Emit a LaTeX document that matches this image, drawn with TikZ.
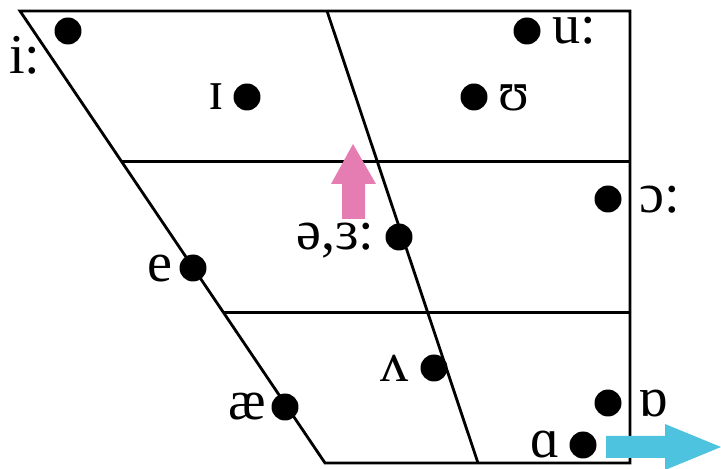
\documentclass[tikz,border=0pt]{standalone}
\usepackage{fontspec}
\setmainfont{Liberation Serif}
\usetikzlibrary{calc}
\definecolor{raisePink}{HTML}{E57DB3}
\definecolor{backCyan}{HTML}{4DC3E0}
\def\dotR{0.27cm}
\def\lineW{1.6pt}
\newcommand{\vowel}[5]{%
% #1 = name, #2 = dot position, #3 = label anchor, #4 = label position, #5 = label
\node[dot] (#1) at (#2) {};
\node[ipa, anchor=#3] (#1-lbl) at (#4) {#5};
}
\begin{document}
\begin{tikzpicture}[
    x=0.02cm, y=-0.02cm,
    line width=\lineW,
    dot/.style={circle, fill=black, inner sep=0pt, minimum size=2*\dotR},
    ipa/.style={inner sep=0pt, font=\fontsize{32}{38}\selectfont}
]
\useasboundingbox (0,0) rectangle (721,469);
% corners of the chart
\coordinate (TL) at (20,11);
\coordinate (TR) at (630,11);
\coordinate (BR) at (630,463);
\coordinate (BL) at (325,463);
\coordinate (TM) at (327,11);
\coordinate (BM) at (478,463);
\coordinate (L1) at ($(TL)!1/3!(BL)$);
\coordinate (R1) at ($(TR)!1/3!(BR)$);
\coordinate (L2) at ($(TL)!2/3!(BL)$);
\coordinate (R2) at ($(TR)!2/3!(BR)$);
\draw (TL) -- (TR) -- (BR) -- (BL) -- cycle;
\draw (L1) -- (R1);
\draw (L2) -- (R2);
% raising arrow
\fill[raisePink] (342,219) -- (342,184) -- (331,184) -- (353,144)
    -- (376,184) -- (365,184) -- (365,219) -- cycle;
\draw (TM) -- (BM);
% vowels
\vowel{iL}{68,31}{base east}{42,74}{i:}
\vowel{ih}{247,97}{base east}{226,110}{ɪ}
\vowel{uL}{527,31}{base west}{551,44}{u:}
\vowel{uh}{474,97}{base west}{497,111}{ʊ}
\vowel{oL}{608,199}{base west}{638,213}{ɔ:}
\vowel{schwa}{399,237}{base east}{376,250}{ə,ɜ:}
\vowel{e}{193,268}{base east}{174,282}{e}
\vowel{ae}{285,407}{base east}{267,420}{æ}
\vowel{wedge}{434,368}{base east}{410,382}{ʌ}
\vowel{o}{608,403}{base west}{637,417}{ɒ}
\vowel{aL}{583,445}{base east}{561,458}{ɑ}
% backing arrow
\fill[backCyan] (606,436) -- (665,436) -- (665,424) -- (721,447)
    -- (665,470) -- (665,458) -- (606,458) -- cycle;
\end{tikzpicture}
\end{document}
